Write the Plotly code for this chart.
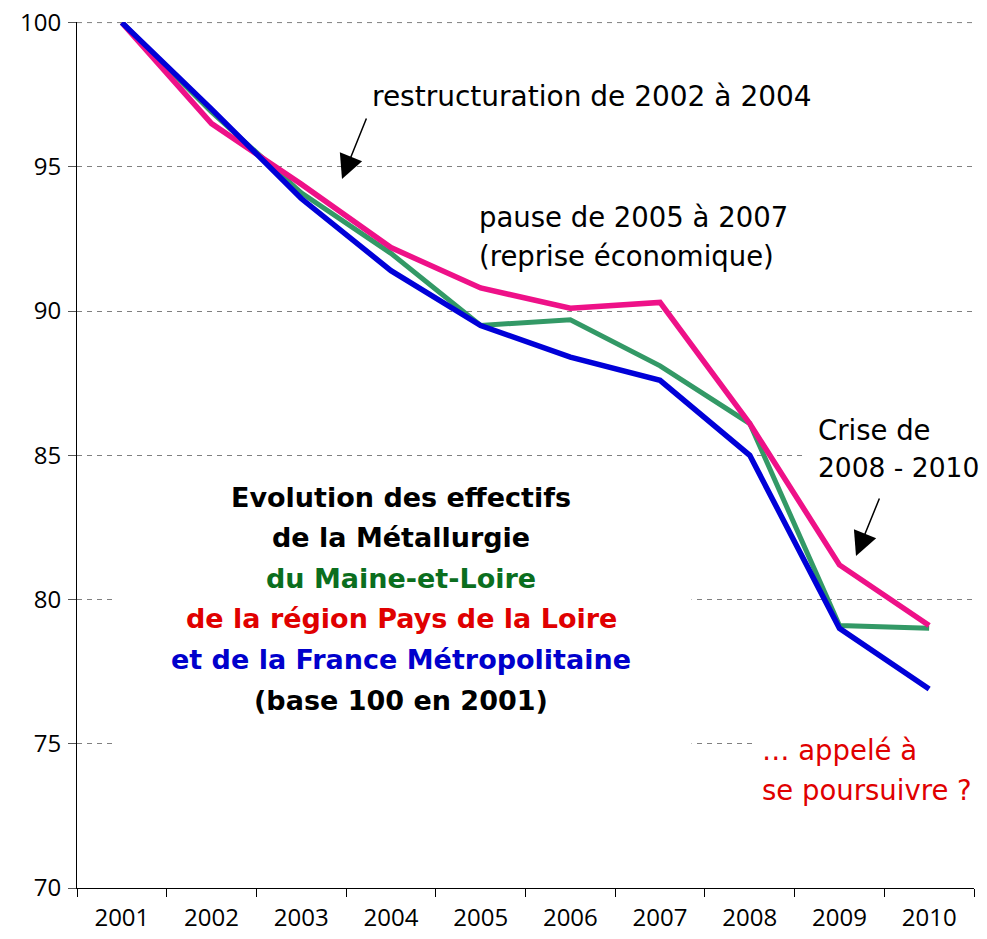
import plotly.graph_objects as go

# --- data (base 100 en 2001) ---
annees = ["2001", "2002", "2003", "2004", "2005", "2006", "2007", "2008", "2009", "2010"]
maine_et_loire = [100, 96.9, 94.1, 92.0, 89.5, 89.7, 88.1, 86.1, 79.1, 79.0]
pays_de_la_loire = [100, 96.5, 94.4, 92.2, 90.8, 90.1, 90.3, 86.1, 81.2, 79.1]
france_metro = [100, 97.0, 93.9, 91.4, 89.5, 88.4, 87.6, 85.0, 79.0, 76.9]
y_ticks = [70, 75, 80, 85, 90, 95, 100]

OFF = 8  # page body margin around the plot div
W, H = 987 - OFF, 939 - OFF
L, R, T, B = 77 - OFF, 13, 22 - OFF, 51
PW, PH = W - L - R, H - T - B
AXIS_FONT = "Open Sans"
TEXT_FONT = "DejaVu Sans"
GRID = "#808080"


# positions below are given in window pixels
def px(x):
    return (x - OFF - L) / PW


def py(y):
    return 1 - (y - OFF - T) / PH


fig = go.Figure()

# drawing order: green, pink, blue (blue on top)
fig.add_trace(go.Scatter(x=annees, y=maine_et_loire, mode="lines",
                         line=dict(color="#339966", width=5)))
fig.add_trace(go.Scatter(x=annees, y=pays_de_la_loire, mode="lines",
                         line=dict(color="#ee1188", width=5.5)))
fig.add_trace(go.Scatter(x=annees, y=france_metro, mode="lines",
                         line=dict(color="#0000d8", width=5.5)))

annotations = []

# white boxes behind the text blocks hide parts of the gridlines
boxes = [(113, 470, 690, 762), (805, 410, 987, 500), (755, 725, 987, 815)]
for a, b, c, d in boxes:
    annotations.append(dict(text=" ", x=px(a), y=py(b), xref="paper", yref="paper",
                            xanchor="left", yanchor="top", width=c - a, height=d - b,
                            bgcolor="white", borderpad=0, showarrow=False))


def txt(text, x, y, xanchor="left", color="black", size=27.5, bold=False):
    if bold:
        text = "<b>" + text + "</b>"
    if xanchor == "left":
        x -= 3
    annotations.append(dict(text=text, x=px(x), y=py(y), xref="paper", yref="paper",
                            xanchor=xanchor, yanchor="middle", showarrow=False,
                            font=dict(family=TEXT_FONT, size=size, color=color)))


def arrow(x_tip, y_tip, x_tail, y_tail):
    annotations.append(dict(text="", x=px(x_tip), y=py(y_tip), xref="paper", yref="paper",
                            ax=x_tail - x_tip, ay=y_tail - y_tip, showarrow=True,
                            arrowhead=2, arrowsize=3.2, arrowwidth=1.5, arrowcolor="black"))


txt("restructuration de 2002 à 2004", 592, 97, xanchor="center", size=28)
arrow(342, 179, 367, 117)

txt("pause de 2005 à 2007", 480, 217)
txt("(reprise économique)", 480, 256)

txt("Crise de", 819, 430)
txt("2008 - 2010", 819, 467, size=26.5)
arrow(856, 556, 880, 497)

txt("… appelé à", 763, 750, color="#e00000")
txt("se poursuivre ?", 763, 790, color="#e00000")

titre = [
    ("Evolution des effectifs", "black"),
    ("de la Métallurgie", "black"),
    ("du Maine-et-Loire", "#0b6e1e"),
    ("de la région Pays de la Loire", "#e00000"),
    ("et de la France Métropolitaine", "#0000cc"),
    ("(base 100 en 2001)", "black"),
]
for i, (ligne, couleur) in enumerate(titre):
    txt(ligne, 401, 497 + i * 40.6, xanchor="center", color=couleur, size=27, bold=True)

# plotly skips the gridline at the top edge, draw it as a shape
shapes = [dict(type="line", xref="paper", yref="y", x0=0, x1=1,
               y0=y_ticks[-1], y1=y_ticks[-1], layer="below",
               line=dict(color=GRID, width=1, dash="5px,5px"))]

fig.update_layout(
    width=W, height=H,
    margin=dict(l=L, r=R, t=T, b=B),
    plot_bgcolor="white", paper_bgcolor="white",
    showlegend=False,
    font=dict(family=AXIS_FONT, size=24, color="black"),
    annotations=annotations,
    shapes=shapes,
    xaxis=dict(type="category", range=[-0.5, 9.5], automargin=False,
               showgrid=False, showline=True, linecolor="black",
               linewidth=1, ticks="outside", ticklen=8, tickcolor="black",
               tickson="boundaries", ticklabelstandoff=8,
               tickfont=dict(size=24), zeroline=False),
    yaxis=dict(range=[70, 100.02], tickmode="array", tickvals=y_ticks,
               automargin=False, showline=True, ticklabeloverflow="allow",
               linecolor="black", linewidth=1, ticks="outside", ticklen=8,
               tickcolor="#555", ticklabelstandoff=2,
               showgrid=True, gridcolor=GRID, gridwidth=1,
               griddash="5px,5px", tickfont=dict(size=24), zeroline=False),
)

fig.write_html("out.html")
